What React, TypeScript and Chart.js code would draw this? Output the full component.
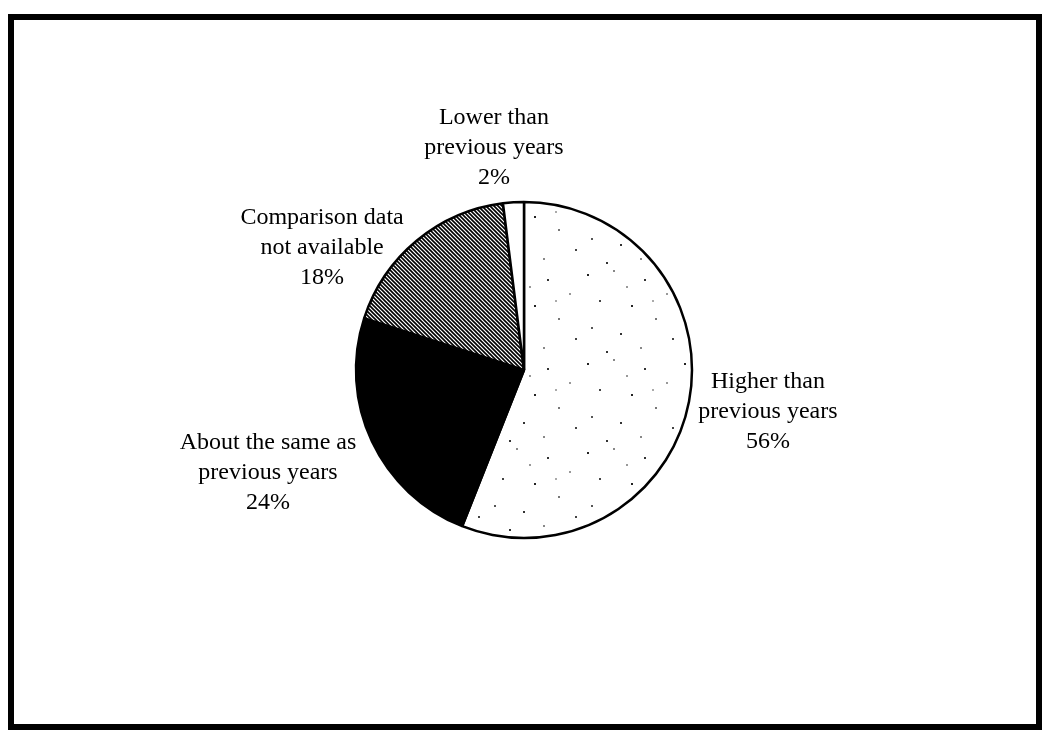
import React, { useEffect, useRef } from "react";
import { Chart, registerables } from "chart.js";

Chart.register(...registerables);

// ---- data ----
const categories = [
  "Higher than previous years",
  "About the same as previous years",
  "Comparison data not available",
  "Lower than previous years",
];
const labelLines = [
  ["Higher than", "previous years"],
  ["About the same as", "previous years"],
  ["Comparison data", "not available"],
  ["Lower than", "previous years"],
];
const values = [56, 24, 18, 2];
const percentLabels = ["56%", "24%", "18%", "2%"];

// label anchor (middle line centre) relative to pie centre, in units of the pie radius
const labelAnchors = [
  [1.452, 0.25],
  [-1.524, 0.613],
  [-1.202, -0.726],
  [-0.179, -1.321],
];

function makeDotPattern(ctx: CanvasRenderingContext2D) {
  const w = 97;
  const h = 89;
  const c = document.createElement("canvas");
  c.width = w;
  c.height = h;
  const g = c.getContext("2d")!;
  g.fillStyle = "#ffffff";
  g.fillRect(0, 0, w, h);
  const dots = [
    [5, 7, "#222"], [31, 3, "#888"], [62, 12, "#333"], [84, 26, "#999"], [17, 33, "#444"],
    [49, 38, "#222"], [73, 51, "#777"], [9, 60, "#555"], [38, 66, "#333"], [90, 71, "#444"],
    [58, 80, "#888"], [24, 84, "#333"], [70, 33, "#aaa"], [44, 19, "#999"],
  ] as [number, number, string][];
  dots.forEach(([x, y, col]) => {
    g.fillStyle = col;
    g.fillRect(x, y, 2, 2);
  });
  return ctx.createPattern(c, "repeat")!;
}

function makeHatchPattern(ctx: CanvasRenderingContext2D) {
  const s = 4;
  const c = document.createElement("canvas");
  c.width = s;
  c.height = s;
  const g = c.getContext("2d")!;
  g.fillStyle = "#ffffff";
  g.fillRect(0, 0, s, s);
  g.strokeStyle = "#000000";
  g.lineWidth = 1.6;
  g.beginPath();
  g.moveTo(-1, -1);
  g.lineTo(s + 1, s + 1);
  g.moveTo(-1 - s, -1);
  g.lineTo(1, s + 1);
  g.moveTo(s - 1, -1);
  g.lineTo(2 * s + 1, s + 1);
  g.stroke();
  return ctx.createPattern(c, "repeat")!;
}

const labelPlugin = {
  id: "sliceLabels",
  afterDraw(chart: any) {
    const meta = chart.getDatasetMeta(0);
    const ctx = chart.ctx as CanvasRenderingContext2D;
    ctx.save();
    ctx.fillStyle = "#000";
    ctx.font = '24px "Liberation Serif", serif';
    ctx.textAlign = "center";
    ctx.textBaseline = "middle";
    meta.data.forEach((arc: any, i: number) => {
      const { x, y, outerRadius } = arc.getProps(["x", "y", "outerRadius"], true);
      const cx = x + labelAnchors[i][0] * outerRadius;
      const cy = y + labelAnchors[i][1] * outerRadius;
      const lines = [...labelLines[i], percentLabels[i]];
      const lh = 30;
      lines.forEach((t, k) => {
        ctx.fillText(t, cx, cy + (k - 1) * lh);
      });
    });
    ctx.restore();
  },
};

export default function App() {
  const ref = useRef<HTMLCanvasElement | null>(null);

  useEffect(() => {
    const canvas = ref.current!;
    const ctx = canvas.getContext("2d")!;
    const chart = new Chart(canvas, {
      type: "pie",
      data: {
        labels: categories,
        datasets: [
          {
            data: values,
            backgroundColor: [makeDotPattern(ctx), "#000000", makeHatchPattern(ctx), "#ffffff"],
            borderColor: "#000000",
            borderWidth: 2.5,
            radius: 168,
          } as any,
        ],
      },
      options: {
        responsive: false,
        animation: false,
        devicePixelRatio: 1,
        layout: { padding: { left: 356, right: 351, top: 202, bottom: 197 } },
        plugins: {
          legend: { display: false },
          tooltip: { enabled: false },
        },
      },
      plugins: [labelPlugin],
    });
    return () => chart.destroy();
  }, []);

  return (
    <div style={{ position: "absolute", left: 0, top: 0, width: 1043, height: 735, background: "#fff" }}>
      <div
        style={{
          position: "absolute",
          left: 8,
          top: 14,
          width: 1034,
          height: 716,
          boxSizing: "border-box",
          border: "6px solid #000",
        }}
      />
      <canvas ref={ref} width={1043} height={735} style={{ position: "absolute", left: 0, top: 0 }} />
    </div>
  );
}
